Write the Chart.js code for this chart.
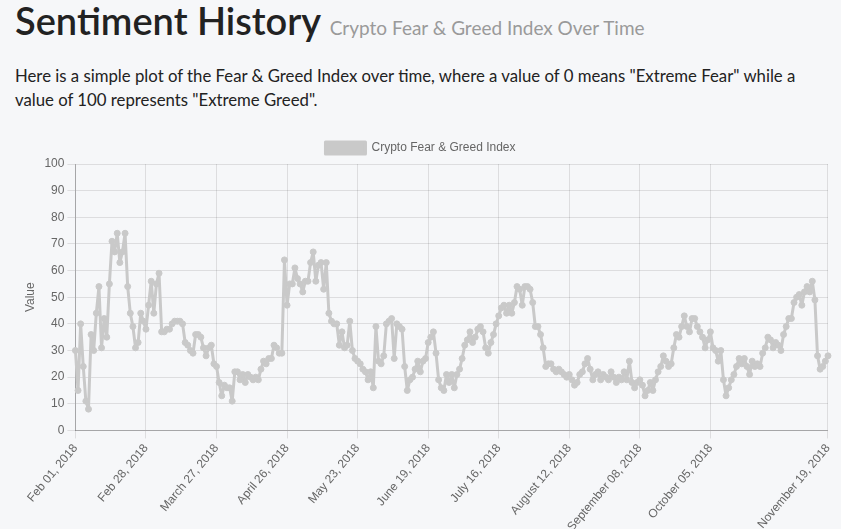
<!DOCTYPE html>
<html>
<head>
<meta charset="utf-8">
<title>Sentiment History</title>
<script src="https://cdn.jsdelivr.net/npm/chart.js@4.4.1/dist/chart.umd.min.js"></script>
<style>
    html, body {
        margin: 0;
        padding: 0;
        background: #f6f7f9;
        width: 841px;
        height: 529px;
        overflow: hidden;
    }
    body {
        position: relative;
        font-family: 'Lato', 'Open Sans', sans-serif;
        color: #222;
    }
    h1 {
        position: absolute;
        left: 15px;
        top: -1px;
        margin: 0;
        font-size: 38px;
        line-height: 42px;
        font-weight: 600;
        white-space: nowrap;
    }
    h1 small {
        font-size: 19px;
        font-weight: 400;
        color: #9a9a9a;
    }
    p.intro {
        position: absolute;
        left: 15px;
        top: 64px;
        width: 800px;
        margin: 0;
        font-size: 16.75px;
        line-height: 24px;
    }
    .chart-box {
        position: absolute;
        left: 19px;
        top: 132px;
        width: 823px;
        height: 405px;
    }
</style>
</head>
<body>
<h1>Sentiment History <small>Crypto Fear &amp; Greed Index Over Time</small></h1>
<p class="intro">Here is a simple plot of the Fear &amp; Greed Index over time, where a value of 0 means "Extreme Fear" while a value of 100 represents "Extreme Greed".</p>
<div class="chart-box"><canvas id="fngChart"></canvas></div>

<script>
const SERIES_LABEL = 'Crypto Fear & Greed Index';
const MONTH_NAMES = ['Jan', 'Feb', 'March', 'April', 'May', 'June', 'July', 'August', 'September', 'October', 'November', 'December'];
const START_DATE = '2018-02-01';
const MISSING_DATES = ['2018-04-14', '2018-04-15', '2018-04-16'];

// labels actually drawn on the x axis
const SHOWN_TICKS = [
    'Feb 01, 2018', 'Feb 28, 2018', 'March 27, 2018', 'April 26, 2018', 'May 23, 2018',
    'June 19, 2018', 'July 16, 2018', 'August 12, 2018', 'September 08, 2018',
    'October 05, 2018', 'November 19, 2018'
];

const Y_TICKS = [0, 10, 20, 30, 40, 50, 60, 70, 80, 90, 100];

// daily index values, Feb 01 2018 .. Nov 19 2018
const fngValues = [
    30, 15, 40, 24, 11, 8, 36, 30, 44, 54,
    31, 42, 35, 55, 71, 67, 74, 63, 67, 74,
    54, 44, 39, 31, 33, 44, 41, 38, 47, 56,
    44, 55, 59, 37, 37, 38, 38, 40, 41, 41,
    41, 40, 33, 32, 30, 29, 36, 36, 35, 31,
    28, 31, 32, 25, 24, 18, 13, 17, 16, 16,
    11, 22, 22, 19, 21, 18, 21, 20, 19, 20,
    19, 23, 26, 25, 27, 27, 32, 31, 29, 29,
    64, 47, 55, 55, 61, 57, 55, 52, 56, 56,
    63, 67, 56, 62, 63, 53, 63, 44, 41, 40,
    40, 32, 37, 31, 32, 41, 30, 27, 26, 25,
    23, 22, 19, 22, 16, 39, 26, 25, 28, 40,
    41, 42, 27, 40, 39, 38, 24, 15, 19, 20,
    23, 26, 22, 26, 27, 33, 35, 37, 29, 19,
    16, 15, 21, 18, 21, 16, 21, 23, 27, 32,
    34, 37, 33, 35, 38, 39, 37, 31, 29, 33,
    36, 40, 43, 46, 47, 44, 47, 44, 48, 54,
    53, 47, 54, 54, 53, 48, 39, 39, 36, 31,
    24, 25, 25, 23, 22, 23, 22, 21, 20, 21,
    19, 17, 18, 21, 22, 25, 27, 23, 19, 21,
    22, 19, 21, 20, 19, 22, 20, 18, 20, 19,
    22, 19, 26, 18, 16, 18, 19, 17, 13, 15,
    18, 15, 19, 22, 24, 28, 26, 24, 25, 31,
    36, 35, 39, 43, 39, 37, 42, 42, 39, 37,
    35, 31, 34, 37, 31, 30, 26, 30, 19, 13,
    16, 19, 21, 24, 27, 25, 27, 24, 21, 26,
    24, 25, 24, 29, 31, 35, 34, 31, 33, 32,
    30, 36, 39, 42, 42, 48, 50, 51, 47, 52,
    54, 52, 56, 49, 28, 23, 24, 26, 28
];

const theme = {
    line: '#c9c9c9',
    text: '#666',
    grid: 'rgba(0, 0, 0, 0.1)',
    axis: 'rgba(0, 0, 0, 0.25)'
};

function buildDateLabels(count) {
    const labels = [];
    const day = new Date(START_DATE + 'T00:00:00Z');
    while (labels.length < count) {
        const iso = day.toISOString().slice(0, 10);
        if (!MISSING_DATES.includes(iso)) {
            const dd = String(day.getUTCDate()).padStart(2, '0');
            labels.push(`${MONTH_NAMES[day.getUTCMonth()]} ${dd}, ${day.getUTCFullYear()}`);
        }
        day.setUTCDate(day.getUTCDate() + 1);
    }
    return labels;
}

const dateLabels = buildDateLabels(fngValues.length);

// the legend in the original sits a little left of the canvas centre
const legendNudge = {
    id: 'legendNudge',
    afterLayout(chart) {
        if (!chart.legend) return;
        chart.legend.left -= 10;
        chart.legend.right -= 10;
    }
};

Chart.defaults.font.family = "'Liberation Sans', 'Helvetica Neue', Arial, sans-serif";
Chart.defaults.font.size = 12;
Chart.defaults.color = theme.text;

const ctx = document.getElementById('fngChart').getContext('2d');

new Chart(ctx, {
    type: 'line',
    data: {
        labels: dateLabels,
        datasets: [{
            label: SERIES_LABEL,
            data: fngValues,
            borderColor: theme.line,
            backgroundColor: theme.line,
            pointBackgroundColor: theme.line,
            pointBorderColor: theme.line,
            borderWidth: 3,
            borderJoinStyle: 'round',
            pointRadius: 3,
            pointBorderWidth: 1,
            tension: 0,
            fill: false
        }]
    },
    options: {
        responsive: true,
        maintainAspectRatio: false,
        animation: false,
        plugins: {
            legend: {
                display: true,
                labels: {
                    boxWidth: 40,
                    boxHeight: 12,
                    padding: 10,
                    color: theme.text
                }
            },
            tooltip: { enabled: false }
        },
        scales: {
            x: {
                grid: { color: theme.grid, tickLength: 8 },
                border: { color: theme.axis },
                ticks: {
                    autoSkip: false,
                    minRotation: 50,
                    maxRotation: 50,
                    color: theme.text,
                    callback: function (value, index) {
                        const label = dateLabels[index];
                        return SHOWN_TICKS.includes(label) ? label : null;
                    }
                }
            },
            y: {
                min: Y_TICKS[0],
                max: Y_TICKS[Y_TICKS.length - 1],
                grid: { color: theme.grid, tickLength: 8 },
                border: { color: theme.axis },
                ticks: { stepSize: Y_TICKS[1] - Y_TICKS[0], color: theme.text },
                title: { display: true, text: 'Value', color: theme.text }
            }
        }
    },
    plugins: [legendNudge]
});
</script>
</body>
</html>
